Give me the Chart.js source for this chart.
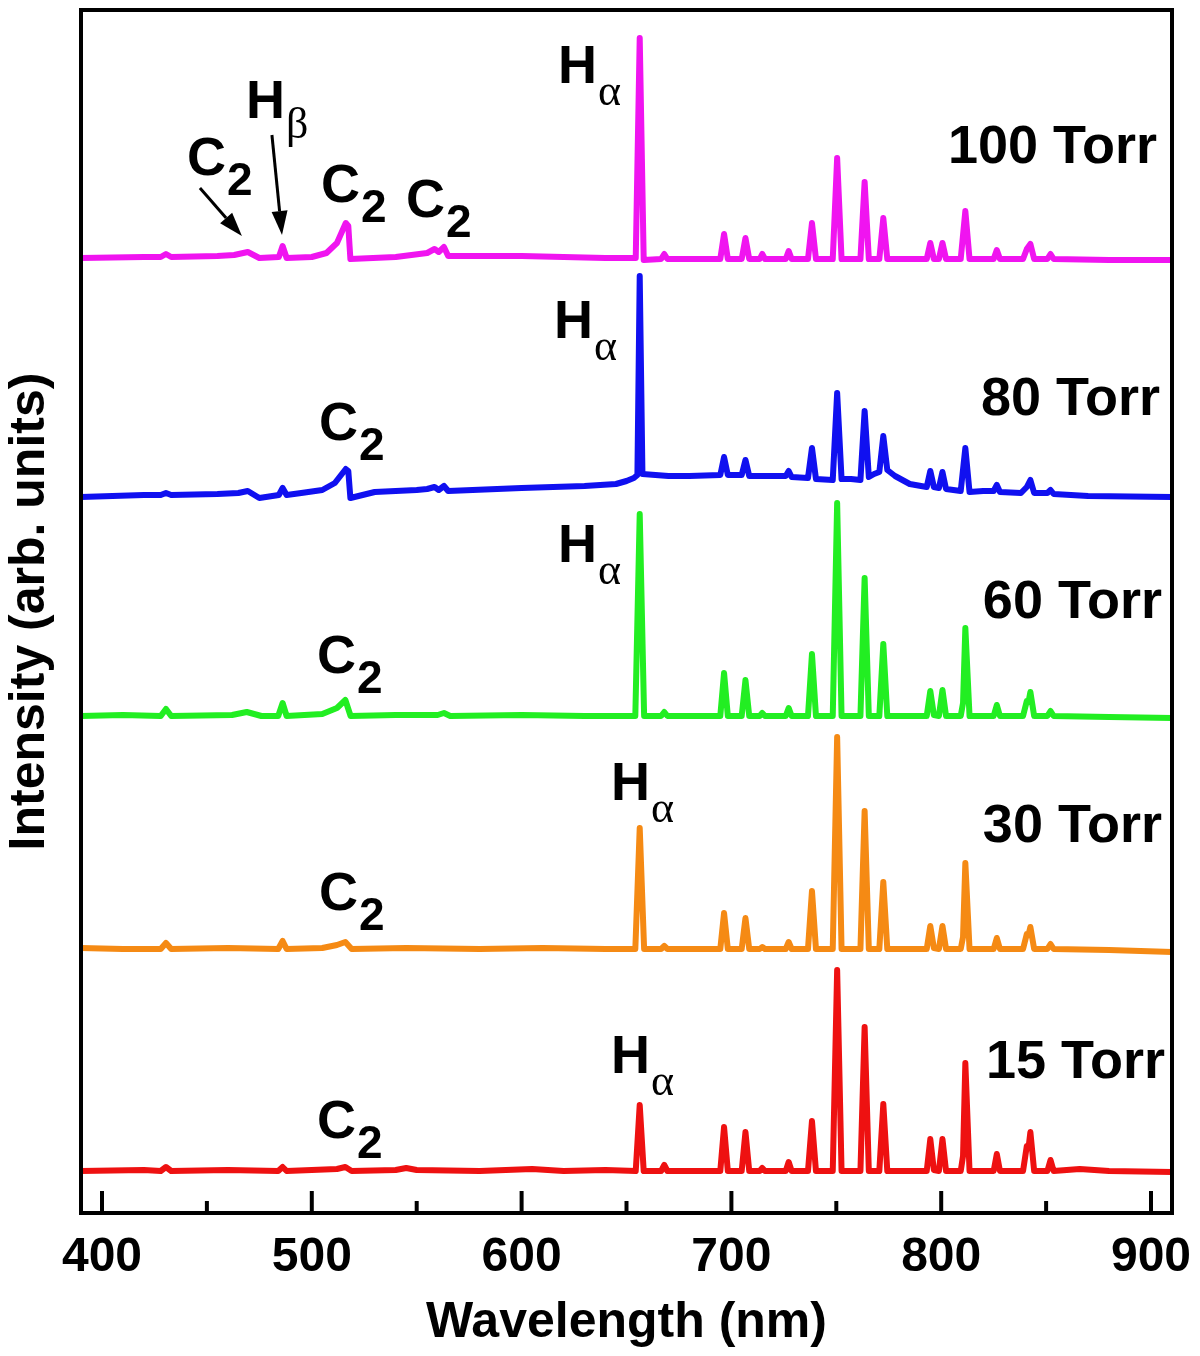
<!DOCTYPE html>
<html>
<head>
<meta charset="utf-8">
<title>Emission spectra vs pressure</title>
<script src="https://cdn.jsdelivr.net/npm/chart.js@4.4.1/dist/chart.umd.min.js"></script>
<style>
  html, body { margin: 0; padding: 0; background: #fff; }
  canvas { display: block; }
</style>
</head>
<body>
<canvas id="spectra" width="1200" height="1356"></canvas>
<script>
// Wavelength axis (nm)
const xMin = 390, xMax = 910;
const majorTicks = [400, 500, 600, 700, 800, 900];
const minorTicks = [450, 550, 650, 750, 850];

// Pressures, vertical stacking offsets (arb. units) and trace colours
const pressures = ['15 Torr', '30 Torr', '60 Torr', '80 Torr', '100 Torr'];
const offsets = [4.2, 26.4, 49.7, 71.6, 95.4];
const colors = ['#ee1111', '#f58a14', '#22ee22', '#1010f0', '#f014f0'];

// Spectra: [wavelength (nm), intensity above baseline]
const torr15 = [
  [390,0],[420,0.1],[428,0],[430.5,0.4],[433,0],[460,0.1],[484,0],[486.1,0.4],[488,0],
  [500,0.1],[512,0.2],[516,0.4],[519,0],[540,0.1],[545,0.3],[550,0.1],[580,0],[605,0.2],
  [620,0],[640,0.1],[654.4,0],[656.3,6.6],[658.2,0],[666.5,0],[668,0.6],[669.5,0],
  [694.7,0],[696.5,4.4],[698.3,0],[704.9,0],[706.7,3.9],[708.5,0],[713.5,0],[714.7,0.3],
  [716,0],[725.9,0],[727.3,0.9],[728.7,0],[736.5,0],[738.4,5.0],[740.3,0],[748.3,0],
  [750.4,20.1],[752.5,0],[761.5,0],[763.5,14.4],[765.5,0],[770.5,0],[772.4,6.7],[774.3,0],
  [793.1,0],[794.8,3.2],[796.5,0.1],[798.9,0],[800.6,3.2],[802.3,0],[809.3,0],[810.4,1.5],
  [811.5,10.8],[813.5,0],[825,0],[826.5,1.7],[828,0],[839,0],[840.8,2.5],[841.6,2.3],
  [842.5,3.9],[844.3,0],[850.6,0],[852.1,1.1],[853.6,0],[866,0.2],[880,0],[910,-0.1]
];
const torr30 = [
  [390,0.1],[410,0],[428,0],[430.5,0.6],[433,0],[460,0.1],[484,0],[486.1,0.8],[488,0],
  [505,0.1],[512,0.4],[516,0.7],[519,0],[545,0.1],[580,0],[610,0.1],[640,0],[654.2,0],
  [656.3,12.1],[658.4,0],[666.5,0],[668,0.3],[669.5,0],[694.7,0],[696.5,3.6],[698.3,0],
  [704.9,0],[706.7,3.1],[708.5,0],[713.5,0],[714.7,0.2],[716,0],[725.9,0],[727.3,0.7],
  [728.7,0],[736.5,0],[738.4,5.8],[740.3,0],[748.3,0],[750.4,21.2],[752.5,0],[761.5,0],
  [763.5,13.8],[765.5,0],[770.5,0],[772.4,6.7],[774.3,0],[793.1,0],[794.8,2.3],[796.5,0.1],
  [798.9,0],[800.6,2.3],[802.3,0],[809.3,0],[810.4,1.2],[811.5,8.6],[813.5,0],[825,0],
  [826.5,1.1],[828,0],[839,0],[840.8,1.5],[841.6,1.4],[842.5,2.2],[844.3,0],[850.6,0],
  [852.1,0.5],[853.6,0],[880,-0.1],[910,-0.3]
];
const torr60 = [
  [390,0],[410,0.1],[428,0],[430.5,0.7],[433,0],[462,0.1],[469,0.4],[476,0],[484,0],
  [486.1,1.3],[488,0],[505,0.2],[512,0.8],[516,1.6],[518.5,0],[540,0.1],[560,0.1],[563,0.3],
  [566,0],[600,0.1],[630,0],[654.2,0],[656.3,20.2],[658.4,0],[666.5,0],[668,0.4],[669.5,0],
  [694.7,0],[696.5,4.3],[698.3,0],[704.9,0],[706.7,3.6],[708.5,0],[713.5,0],[714.7,0.3],
  [716,0],[725.9,0],[727.3,0.8],[728.7,0],[736.5,0],[738.4,6.2],[740.3,0],[748.3,0],
  [750.4,21.3],[752.5,0],[761.5,0],[763.5,13.8],[765.5,0],[770.5,0],[772.4,7.2],[774.3,0],
  [793.1,0],[794.8,2.5],[796.5,0.1],[798.9,0],[800.6,2.6],[802.3,0],[809.3,0],[810.4,1.3],
  [811.5,8.8],[813.5,0],[825,0],[826.5,1.1],[828,0],[839,0],[840.8,1.5],[841.6,1.4],
  [842.5,2.4],[844.3,0],[850.6,0],[852.1,0.5],[853.6,0],[880,-0.1],[910,-0.2]
];
const torr80 = [
  [390,0],[420,0.2],[428,0.2],[430.5,0.4],[433,0.2],[455,0.3],[465,0.4],[469.5,0.6],[475,-0.1],
  [484.3,0.2],[486.1,0.9],[488,0.2],[495,0.4],[505,0.7],[511,1.4],[516.2,2.8],[517.4,2.6],
  [518.4,-0.1],[530,0.5],[550,0.7],[555,0.8],[558.5,1.0],[560.5,0.7],[563,1.1],[565,0.6],
  [600,0.9],[630,1.1],[645,1.3],[650,1.6],[653.5,1.9],[655.2,2.2],[656.3,22.1],[657.6,2.3],
  [670,2.1],[680,2.1],[694.7,2.2],[696.5,4.0],[698.3,2.2],[704.9,2.2],[706.7,3.7],[708.5,2.1],
  [720,2.1],[725.9,2.1],[727.3,2.6],[728.7,2.0],[736.5,1.9],[738.4,4.9],[740.3,1.8],[748.3,1.7],
  [750.4,10.4],[752.5,1.8],[757,1.8],[761.5,1.7],[763.5,8.6],[765.5,2.0],[768,2.3],[770.5,2.5],
  [772.4,6.1],[774.3,2.7],[778,2.1],[785,1.3],[793.1,1.0],[794.8,2.6],[796.5,1.0],[798.9,0.9],
  [800.6,2.5],[802.3,0.8],[809.3,0.6],[811.5,4.9],[813.5,0.5],[820,0.6],[825,0.6],[826.5,1.2],
  [828,0.5],[838,0.4],[840.8,1.0],[842.5,1.7],[844.3,0.4],[850.6,0.4],[852.1,0.7],[853.6,0.3],
  [870,0.1],[910,0]
];
const torr100 = [
  [390,0.1],[420,0.2],[428,0.2],[430.5,0.5],[433,0.2],[455,0.3],[463,0.4],[469.5,0.7],[475,0.1],
  [484.3,0.2],[486.1,1.3],[488,0.1],[500,0.2],[507,0.6],[512,1.6],[516.2,3.6],[517.4,3.3],
  [518.4,0],[540,0.2],[555,0.6],[558.5,1.0],[560.5,0.7],[563,1.2],[565,0.3],[600,0.3],[640,0.1],
  [654.4,0.1],[656.3,22.1],[658.2,-0.1],[666.5,0],[668,0.5],[669.5,0],[694.7,0],[696.5,2.5],
  [698.3,0],[704.9,0],[706.7,2.1],[708.5,0],[713.5,0],[714.7,0.5],[716,0],[725.9,0],[727.3,0.8],
  [728.7,0],[736.5,0],[738.4,3.6],[740.3,0],[748.3,0],[750.4,10.1],[752.5,0],[761.5,0],
  [763.5,7.7],[765.5,0],[770.5,0],[772.4,4.1],[774.3,0],[793.1,0],[794.8,1.6],[796.5,0],
  [798.9,0],[800.6,1.6],[802.3,0],[809.3,0],[811.5,4.8],[813.5,0],[825,0],[826.5,0.9],[828,0],
  [839,0],[840.8,1.0],[842.5,1.5],[844.3,0],[850.6,0],[852.1,0.5],[853.6,0],[880,-0.1],[910,-0.1]
];
const spectra = [torr15, torr30, torr60, torr80, torr100];

// Annotation anchors in data units [nm, intensity]
const torrLabelPos = [[906.7,13.5],[905.2,37.1],[905.2,59.5],[904.3,79.8],[902.9,105.0]];
const hAlphaPos = [[642.6,14.0],[642.6,41.3],[617.4,65.1],[615.5,87.5],[617.4,113.0]];
const c2Pos = [[502.5,7.5],[503.4,30.3],[502.5,54.0],[503.4,77.3],[440.5,103.8],[504.4,101.1],[544.9,99.6]];
const hBetaPos = [468.6,109.5];
const arrows = [[446.7,102.5,466.7,97.7],[481.0,107.8,485.8,97.8]];

Chart.defaults.font.family = '"Liberation Sans", Arial, sans-serif';
Chart.defaults.color = '#000';

const datasets = spectra.map((s, i) => ({
  label: pressures[i],
  data: s.map(p => ({ x: p[0], y: p[1] + offsets[i] })),
  borderColor: colors[i],
  borderWidth: 6,
  borderJoinStyle: 'round',
  borderCapStyle: 'round',
  pointRadius: 0,
  tension: 0,
  fill: false
}));

function drawSub(ctx, x, y, main, sub, drop) {
  ctx.font = 'bold 54px "Liberation Sans"';
  ctx.fillText(main, x, y);
  const w = ctx.measureText(main).width;
  if (sub === '2') {
    ctx.font = 'bold 46px "Liberation Sans"';
  } else {
    ctx.font = '44px "Liberation Serif"';
  }
  ctx.fillText(sub, x + w + 1, y + drop);
}

function drawArrow(ctx, x1, y1, x2, y2) {
  const ang = Math.atan2(y2 - y1, x2 - x1);
  const len = 24, half = 8;
  const bx = x2 - len * Math.cos(ang), by = y2 - len * Math.sin(ang);
  ctx.beginPath();
  ctx.moveTo(x1, y1);
  ctx.lineTo(bx, by);
  ctx.stroke();
  ctx.beginPath();
  ctx.moveTo(x2, y2);
  ctx.lineTo(bx + half * Math.sin(ang), by - half * Math.cos(ang));
  ctx.lineTo(bx - half * Math.sin(ang), by + half * Math.cos(ang));
  ctx.closePath();
  ctx.fill();
}

const decorations = {
  id: 'decorations',
  afterDraw(chart) {
    const ctx = chart.ctx;
    const area = chart.chartArea;
    const xs = chart.scales.x, ys = chart.scales.y;
    ctx.save();
    ctx.fillStyle = '#000';
    ctx.strokeStyle = '#000';

    // frame
    ctx.lineWidth = 4;
    ctx.strokeRect(area.left, area.top, area.right - area.left, area.bottom - area.top);

    // inward ticks on the wavelength axis
    majorTicks.forEach(v => {
      const px = xs.getPixelForValue(v);
      ctx.beginPath();
      ctx.moveTo(px, area.bottom);
      ctx.lineTo(px, area.bottom - 22);
      ctx.stroke();
    });
    minorTicks.forEach(v => {
      const px = xs.getPixelForValue(v);
      ctx.beginPath();
      ctx.moveTo(px, area.bottom);
      ctx.lineTo(px, area.bottom - 12);
      ctx.stroke();
    });

    // pressure labels
    ctx.textBaseline = 'alphabetic';
    ctx.textAlign = 'right';
    ctx.font = 'bold 54px "Liberation Sans"';
    torrLabelPos.forEach((p, i) => {
      ctx.fillText(pressures[i], xs.getPixelForValue(p[0]), ys.getPixelForValue(p[1]));
    });

    // line labels
    ctx.textAlign = 'left';
    hAlphaPos.forEach(p => drawSub(ctx, xs.getPixelForValue(p[0]), ys.getPixelForValue(p[1]), 'H', '\u03B1', 22));
    c2Pos.forEach(p => drawSub(ctx, xs.getPixelForValue(p[0]), ys.getPixelForValue(p[1]), 'C', '2', 20));
    drawSub(ctx, xs.getPixelForValue(hBetaPos[0]), ys.getPixelForValue(hBetaPos[1]), 'H', '\u03B2', 20);

    // arrows
    ctx.lineWidth = 3;
    arrows.forEach(a => drawArrow(ctx,
      xs.getPixelForValue(a[0]), ys.getPixelForValue(a[1]),
      xs.getPixelForValue(a[2]), ys.getPixelForValue(a[3])));
    ctx.restore();
  }
};

new Chart(document.getElementById('spectra'), {
  type: 'line',
  data: { datasets: datasets },
  options: {
    responsive: false,
    devicePixelRatio: 1,
    animation: false,
    layout: { padding: { top: 10, right: 28, left: 0, bottom: 0 } },
    plugins: { legend: { display: false }, tooltip: { enabled: false } },
    scales: {
      x: {
        type: 'linear',
        min: xMin,
        max: xMax,
        grid: { display: false, drawTicks: false },
        border: { display: false },
        afterBuildTicks: scale => { scale.ticks = majorTicks.map(v => ({ value: v })); },
        afterFit: scale => {
          scale.height = 143;
          scale.paddingLeft = 0;
          scale.paddingRight = 0;
        },
        ticks: {
          padding: 16,
          maxRotation: 0,
          autoSkip: false,
          font: { size: 48, weight: 'bold' },
          color: '#000'
        },
        title: {
          display: true,
          text: 'Wavelength (nm)',
          font: { size: 50, weight: 'bold' },
          color: '#000',
          padding: { top: 0, bottom: 3 }
        }
      },
      y: {
        type: 'linear',
        min: 0,
        max: 120.3,
        grid: { display: false, drawTicks: false },
        border: { display: false },
        ticks: { display: false },
        afterFit: scale => { scale.width = 81; },
        title: {
          display: true,
          text: 'Intensity (arb. units)',
          font: { size: 50, weight: 'bold' },
          color: '#000',
          padding: { top: 0, bottom: 0 }
        }
      }
    }
  },
  plugins: [decorations]
});
</script>
</body>
</html>
